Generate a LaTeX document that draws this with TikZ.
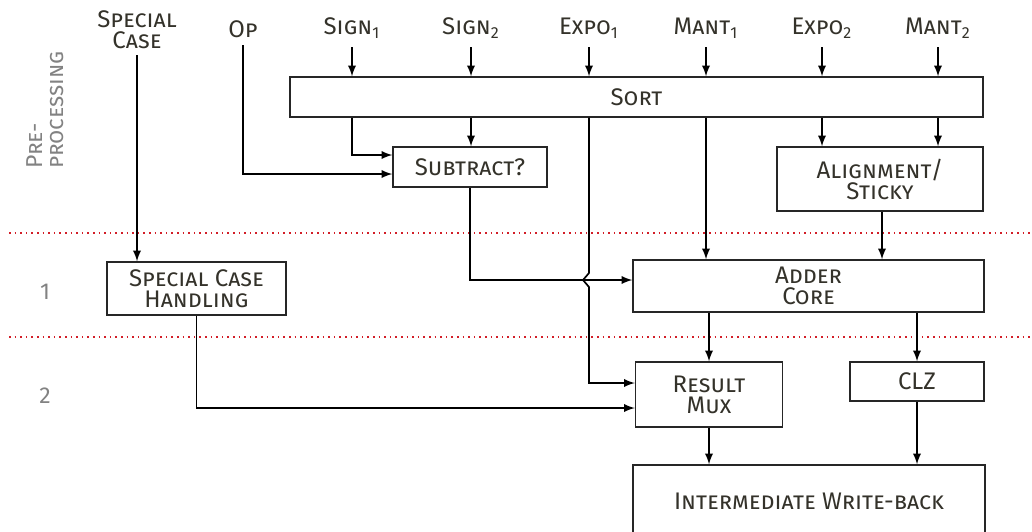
\documentclass[tikz,border=0pt]{standalone}
\usepackage{fontspec}
\setmainfont{Fira Sans}
\usepackage{xcolor}
\usetikzlibrary{calc}

\definecolor{txtcol}{RGB}{52,50,42}
\definecolor{stagecol}{RGB}{130,130,130}
\definecolor{sepcol}{RGB}{210,30,40}

\newcommand{\diafont}{\fontsize{12}{10.5}\selectfont\scshape}

\tikzset{
  >=latex,
  blk/.style={draw=black!85, line width=0.7pt, fill=white, text=txtcol,
    align=center, inner sep=1pt, font=\diafont},
  sig/.style={text=txtcol, align=center, inner sep=1pt, font=\diafont},
  stage/.style={text=stagecol, align=center, font=\fontsize{11.5}{10.5}\selectfont\scshape},
  wire/.style={line width=0.85pt, ->},
  stagesep/.style={sepcol, line width=0.8pt, dotted},
}

\begin{document}
\begin{tikzpicture}[x=0.5pt, y=-0.5pt]
\useasboundingbox (0,0) rectangle (1032,531);

% Trennlinien der Pipeline-Stufen
\draw[stagesep] (9,233) -- (1032,233);
\draw[stagesep] (9,337) -- (1032,337);

% Stufen
\node[stage, rotate=90, align=left] (pre) at (45,110) {Pre-\\processing};
\node[stage] (st1) at (45,292) {1};
\node[stage] (st2) at (45,396) {2};

% Eingaenge
\node[sig] (spc) at (137,30) {Special\\Case};
\node[sig] (op) at (243,29) {Op};
\node[sig] (s1) at (352,28) {Sign\textsubscript{1}};
\node[sig] (s2) at (471,28) {Sign\textsubscript{2}};
\node[sig] (e1) at (589,28) {Expo\textsubscript{1}};
\node[sig] (m1) at (706,28) {Mant\textsubscript{1}};
\node[sig] (e2) at (822,28) {Expo\textsubscript{2}};
\node[sig] (m2) at (938,28) {Mant\textsubscript{2}};

% Bloecke
\node[blk, minimum width=346.5pt, minimum height=20pt] (sort) at (636.5,97) {Sort};
\node[blk, minimum width=77pt, minimum height=20pt] (sub) at (470,167) {Subtract?};
\node[blk, minimum width=103pt, minimum height=32pt] (align) at (880,179) {Alignment/\\Sticky};
\node[blk, minimum width=175.5pt, minimum height=26pt] (adder) at (808.5,286) {Adder\\Core};
\node[blk, minimum width=89.5pt, minimum height=26.5pt] (sch) at (196.5,288.5) {Special Case\\Handling};
\node[blk, minimum width=73.5pt, minimum height=32.5pt] (mux) at (709,394.5) {Result\\Mux};
\node[blk, minimum width=67pt, minimum height=19.5pt] (clz) at (917,381.5) {CLZ};
\node[blk, minimum width=176pt, minimum height=36pt] (iwb) at (809,501) {Intermediate Write-back};

% Eingaenge in Sort
\foreach \n in {s1,s2,e1,m1,e2,m2}
  \draw[wire] (\n |- 0,47) -- (\n |- sort.north);

% Vorverarbeitung
\draw[wire] (spc |- 0,55) -- (spc |- sch.north);
\draw[wire] (op |- 0,45) |- ([yshift=-3.5pt]sub.west);
\draw[wire] (s1 |- sort.south) |- ([yshift=6pt]sub.west);
\draw[wire] (s2 |- sort.south) -- (s2 |- sub.north);
\draw[wire] (e2 |- sort.south) -- (e2 |- align.north);
\draw[wire] (m2 |- sort.south) -- (m2 |- align.north);

% Stufe 1
\draw[wire] (sub.south) |- ([yshift=3pt]adder.west);
\draw[wire] (m1 |- sort.south) -- (m1 |- adder.north);
\draw[wire] ([xshift=1pt]align.south) -- ([xshift=1pt]align.south |- adder.north);

% Stufe 2 (Expo1 springt ueber die Subtract-Leitung)
\coordinate (hop) at (e1 |- 0,280);
\draw[wire] (e1 |- sort.south) -- ([yshift=3.5pt]hop)
  -- ([xshift=-3pt]hop) -- ([yshift=-3.5pt]hop)
  |- ([yshift=5.75pt]mux.west);
\draw[wire] (sch.south) |- ([yshift=-6.75pt]mux.west);
\draw[wire] (mux.north |- adder.south) -- (mux.north);
\draw[wire] (clz.north |- adder.south) -- (clz.north);

% Write-back
\draw[wire] (mux.south) -- (mux.south |- iwb.north);
\draw[wire] (clz.south) -- (clz.south |- iwb.north);

\end{tikzpicture}
\end{document}
